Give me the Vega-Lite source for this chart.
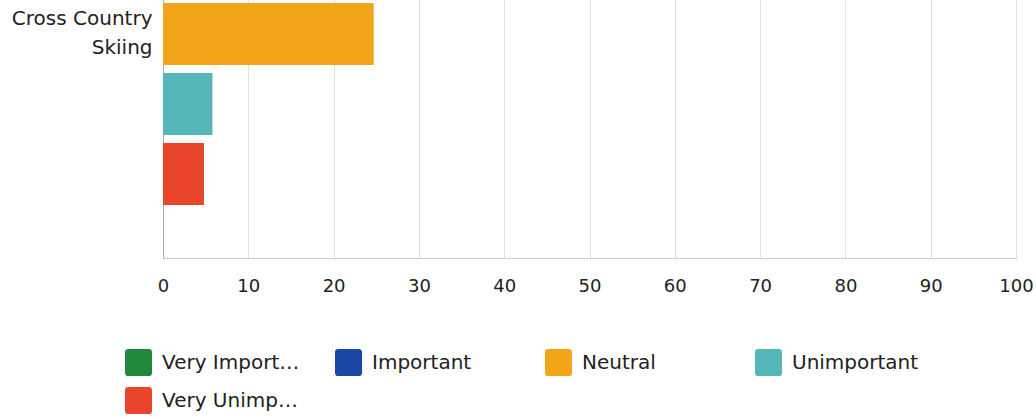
{
  "$schema": "https://vega.github.io/schema/vega-lite/v6.json",
  "width": 853,
  "height": 448,
  "autosize": {"type": "none"},
  "padding": {"left": 163, "top": -190, "right": 20, "bottom": 161},
  "background": "white",
  "config": {"view": {"stroke": null}, "font": "DejaVu Sans"},
  "data": {
    "values": [
      {"activity": "Cross Country Skiing", "response": "Very Important", "percent": 0},
      {"activity": "Cross Country Skiing", "response": "Important", "percent": 0},
      {"activity": "Cross Country Skiing", "response": "Neutral", "percent": 24.7},
      {"activity": "Cross Country Skiing", "response": "Unimportant", "percent": 5.8},
      {"activity": "Cross Country Skiing", "response": "Very Unimportant", "percent": 4.8}
    ]
  },
  "mark": {"type": "bar"},
  "encoding": {
    "y": {
      "field": "activity",
      "type": "nominal",
      "title": null,
      "scale": {"paddingInner": 0, "paddingOuter": 0},
      "axis": {
        "ticks": false,
        "domainColor": "#a8a8a8",
        "labelFontSize": 20,
        "labelColor": "#222222",
        "labelPadding": 11,
        "labelLineHeight": 29,
        "labelOffset": -15,
        "labelLimit": 220,
        "labelExpr": "datum.value == 'Cross Country Skiing' ? ['Cross Country', 'Skiing'] : datum.label"
      }
    },
    "yOffset": {
      "field": "response",
      "type": "nominal",
      "sort": ["Very Important", "Important", "Neutral", "Unimportant", "Very Unimportant"],
      "scale": {"paddingInner": 0.114, "paddingOuter": 0.757}
    },
    "x": {
      "field": "percent",
      "type": "quantitative",
      "title": null,
      "scale": {"domain": [0, 100]},
      "axis": {
        "values": [0, 10, 20, 30, 40, 50, 60, 70, 80, 90, 100],
        "ticks": false,
        "grid": true,
        "gridColor": "#dde1e8",
        "domainColor": "#b5b5b5",
        "domainDash": [2, 1],
        "labelFontSize": 18,
        "labelColor": "#222222",
        "labelPadding": 19,
        "labelFlush": false
      }
    },
    "color": {
      "field": "response",
      "type": "nominal",
      "scale": {
        "domain": ["Very Important", "Important", "Neutral", "Unimportant", "Very Unimportant"],
        "range": ["#1f8a3c", "#1d47a6", "#f3a51a", "#55b6b9", "#e8452c"]
      },
      "legend": {
        "title": null,
        "orient": "none",
        "legendX": -38,
        "legendY": 539,
        "direction": "horizontal",
        "columns": 4,
        "gridAlign": "all",
        "symbolType": "M-0.75,-1H0.75Q1,-1,1,-0.75V0.75Q1,1,0.75,1H-0.75Q-1,1,-1,0.75V-0.75Q-1,-1,-0.75,-1Z",
        "symbolSize": 729,
        "symbolStrokeWidth": 0,
        "symbolOpacity": 1,
        "labelFontSize": 20,
        "labelColor": "#222222",
        "labelLimit": 145,
        "labelOffset": 10,
        "columnPadding": 35,
        "rowPadding": 11
      }
    }
  }
}
